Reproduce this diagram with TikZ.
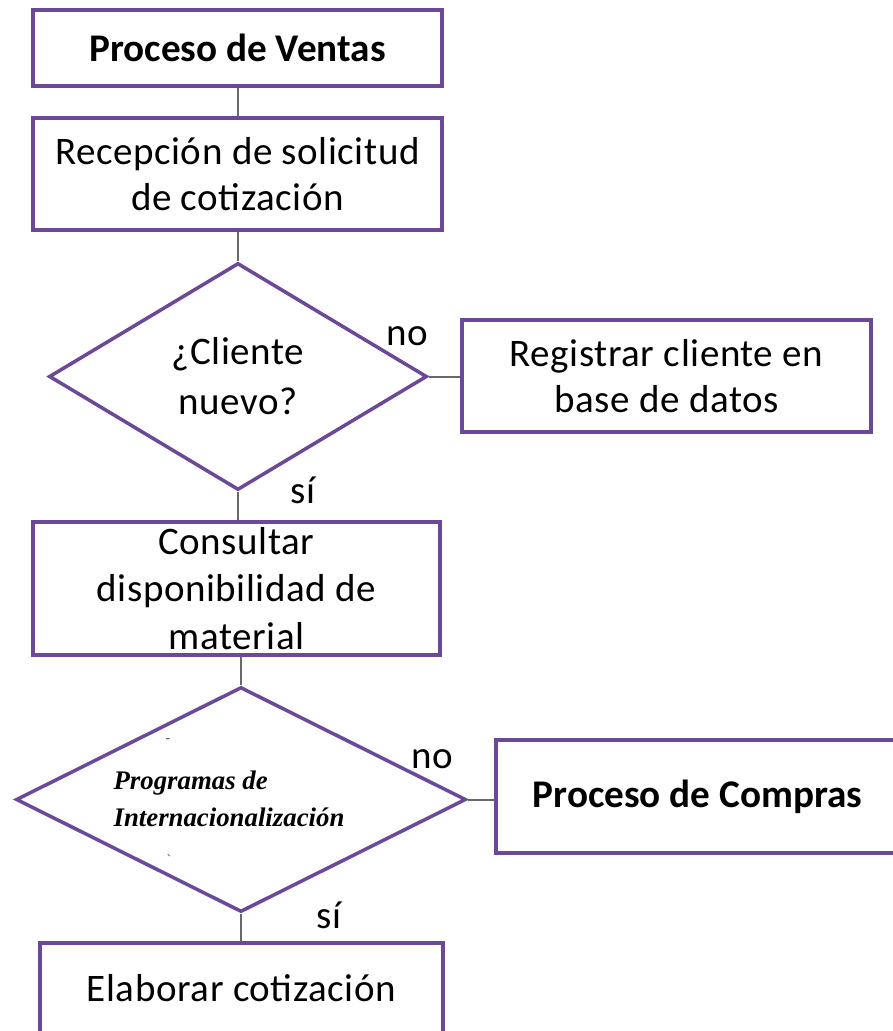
\documentclass[tikz,border=0pt]{standalone}
\usepackage{fontspec}
\setmainfont{Carlito}[LetterSpace=1.5, BoldFeatures={LetterSpace=0}]
\newfontfamily\serifit{Liberation Serif}
\usetikzlibrary{shapes.geometric}
\definecolor{boxpurple}{RGB}{108,72,152}
\definecolor{linegray}{RGB}{105,105,105}
\begin{document}
\begin{tikzpicture}[x=1pt,y=-1pt,
  box/.style={draw=boxpurple, line width=3.5pt, inner sep=0pt, align=center,
    font=\fontsize{39}{46}\selectfont},
  boldbox/.style={box, font=\fontsize{39.2}{46}\selectfont\bfseries},
  dec/.style={diamond, draw=boxpurple, line width=3.5pt, inner sep=0pt, align=center,
    font=\fontsize{39}{50}\selectfont},
  link/.style={draw=linegray, line width=2pt},
  lab/.style={font=\fontsize{39}{46}\selectfont, inner sep=0pt, anchor=base},
  stray/.style={font=\serifit\fontsize{14}{14}\selectfont, text=black!70, inner sep=0pt}]
\useasboundingbox (0,0) rectangle (893,1031);
\clip (0,0) rectangle (893,1031);
\fill[white] (0,0) rectangle (893,1031);

\node[boldbox, minimum width=409pt, minimum height=76pt] (ventas) at (237.5,48) {Proceso de Ventas};
\node[box, minimum width=409pt, minimum height=112pt] (recep) at (237.5,174) {Recepción de solicitud\\de cotización};
\node[dec, minimum width=378pt, minimum height=227pt] (cliente) at (238,376.5) {¿Cliente\\nuevo?};
\node[box, minimum width=409pt, minimum height=112pt] (registrar) at (666.5,376) {Registrar cliente en\\base de datos};
\node[box, minimum width=407pt, minimum height=133pt, font=\fontsize{39}{47.5}\selectfont] (consultar) at (236.5,588.5) {Consultar\\disponibilidad de\\material};
\node[dec, minimum width=450pt, minimum height=225pt] (programas) at (241,799.5) {};
\node[align=left, inner sep=0pt, font=\serifit\bfseries\itshape\fontsize{26.8}{37}\selectfont] (progtext) at (229,799) {Programas de\\Internacionalización};
\node[boldbox, minimum width=403pt, minimum height=113pt] (compras) at (697.5,796.5) {Proceso de Compras};
\node[box, minimum width=403pt, minimum height=91pt] (elaborar) at (241.5,988.5) {Elaborar cotización};

\node[lab] (no1) at (407,345) {no};
\node[lab] (si1) at (303,503) {sí};
\node[lab] (no2) at (432.5,768) {no};
\node[lab] (si2) at (329,928) {sí};
\node[stray] (mark1) at (168,741) {-};
\node[stray] (mark2) at (169,860) {`};

\draw[link] (ventas.south) -- (recep.north);
\draw[link] (recep.south) -- (recep.south |- cliente.north);
\draw[link] (cliente.east) -- (cliente.east -| registrar.west);
\draw[link] (cliente.south) -- (cliente.south |- consultar.north);
\draw[link] (programas.north) -- (programas.north |- consultar.south);
\draw[link] (programas.east) -- (programas.east -| compras.west);
\draw[link] (programas.south) -- (programas.south |- elaborar.north);
\end{tikzpicture}
\end{document}
